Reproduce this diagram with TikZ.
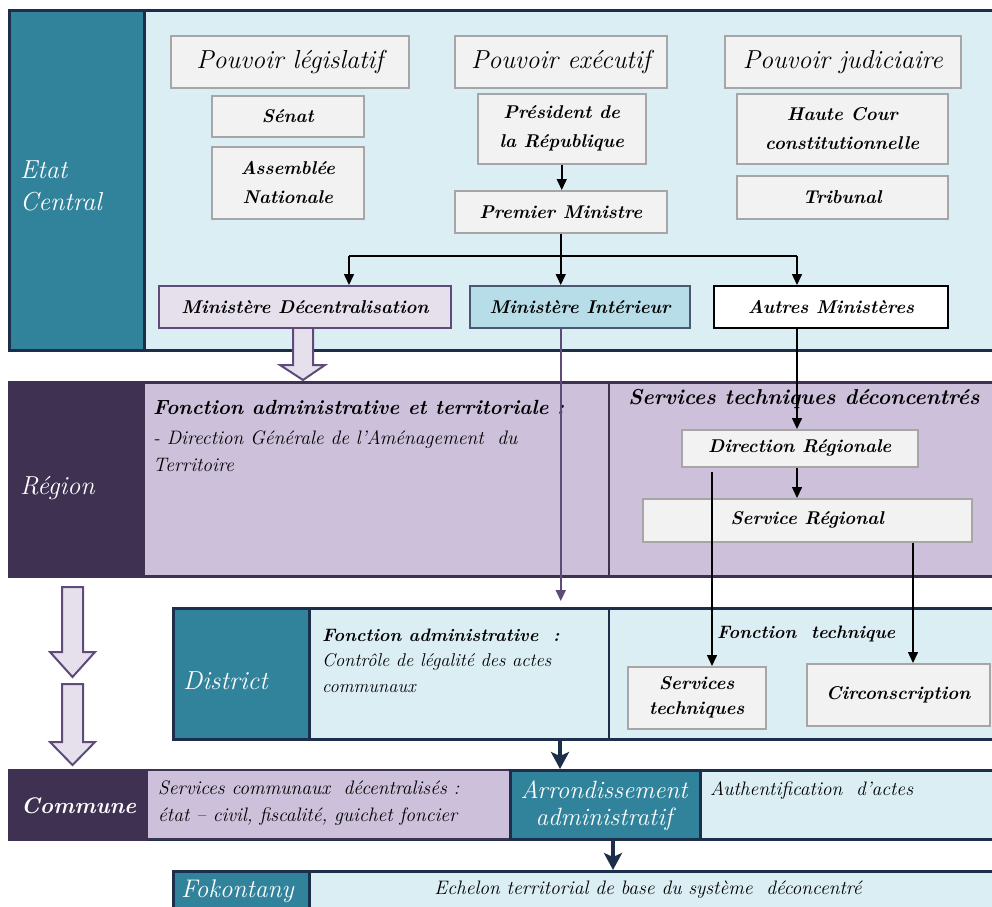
\documentclass[tikz,border=0pt]{standalone}
\usepackage{fontspec}
\usetikzlibrary{arrows.meta}
\definecolor{teal1}{HTML}{31829B}
\definecolor{lblue}{HTML}{DBEEF4}
\definecolor{dpurp}{HTML}{3F3151}
\definecolor{lav}{HTML}{CCC0DA}
\definecolor{lav2}{HTML}{E5E0EC}
\definecolor{navy}{HTML}{1C2E4A}
\definecolor{gfill}{HTML}{F2F2F2}
\definecolor{gline}{HTML}{A6A6A6}
\definecolor{mblue}{HTML}{B7DEE8}
\definecolor{arrpurp}{HTML}{5F4B7A}
\newcommand\myfs[2]{\fontsize{#1}{#2}\selectfont}
\tikzset{
  band/.style={draw=navy, line width=3pt, inner sep=0pt, anchor=north west},
  gbox/.style={draw=gline, fill=gfill, line width=1.5pt, inner sep=0pt, anchor=north west, align=center, font=\myfs{18.5}{29}\bfseries\itshape},
  head/.style={draw=gline, fill=gfill, line width=1.5pt, inner sep=0pt, anchor=north west, align=center, font=\myfs{26}{29}\itshape},
  big/.style={text=white, inner sep=0pt, anchor=west, align=left, font=\myfs{26}{32}\itshape},
  txt/.style={inner sep=0pt, anchor=west, align=left, font=\myfs{19.5}{27}\itshape},
  htxt/.style={inner sep=0pt, anchor=west, align=left, font=\myfs{20.5}{27}\bfseries\itshape},
  arr/.style={line width=1.5pt, draw=black, -{Triangle[length=11pt,width=10pt]}},
  parr/.style={line width=2pt, draw=arrpurp, -{Triangle[length=11pt,width=10pt]}},
  tarr/.style={line width=4pt, draw=navy, -{Stealth[length=17pt,width=18pt,inset=4pt]}},
  barrow/.style={draw=arrpurp, fill=lav2, line width=2pt, line join=miter},
}
\begin{document}
\begin{tikzpicture}[x=1pt,y=-1pt]
\useasboundingbox (0,0) rectangle (992,906);
\clip (0,0) rectangle (992,906);
% ---------------- Etat Central
\node[band, fill=lblue, minimum width=984, minimum height=340] (etat) at (8,9) {};
\node[band, fill=teal1, minimum width=135, minimum height=340] (etatL) at (8,9) {};
\node[big] (etatT) at (20,186) {Etat\\Central};

\node[head, minimum width=238, minimum height=52] (pl) at (170,35) {Pouvoir législatif};
\node[gbox, minimum width=152, minimum height=41] (sen) at (211,95) {Sénat};
\node[gbox, minimum width=152, minimum height=72] (an) at (211,146) {Assemblée\\Nationale};

\node[head, minimum width=212, minimum height=52] (pe) at (454,35) {Pouvoir exécutif};
\node[gbox, minimum width=168, minimum height=70] (pr) at (477,93) {Président de\\la République};
\node[gbox, minimum width=212, minimum height=42] (pm) at (454,190) {Premier Ministre};

\node[head, minimum width=236, minimum height=52] (pj) at (724,35) {Pouvoir judiciaire};
\node[gbox, minimum width=211, minimum height=70] (hc) at (736,93) {Haute Cour\\constitutionnelle};
\node[gbox, minimum width=211, minimum height=43] (tri) at (736,175) {Tribunal};

% block arrow from Ministere Decentralisation
\draw[barrow] (293,320) -- (293,365) -- (280,365) -- (303,380) -- (325,365) -- (313,365) -- (313,320);

\node[gbox, draw=arrpurp, fill=lav2, line width=2pt, minimum width=292, minimum height=42] (md) at (158,285) {Ministère Décentralisation};
\node[gbox, draw=navy!80, fill=mblue, line width=2pt, minimum width=220, minimum height=42] (mi) at (469,285) {Ministère Intérieur};
\node[gbox, draw=black, fill=white, line width=2pt, minimum width=234, minimum height=42] (am) at (713,285) {Autres Ministères};

\coordinate (jl) at (349,256);
\coordinate (jr) at (797,256);
\draw[arr] (pr.south) -- (pr.south |- pm.north);
\draw[line width=1.5pt] (jl) -- (jr);
\draw[arr] (jl) -- (jl |- md.north);
\draw[arr] (jr) -- (jr |- am.north);

% ---------------- Region
\node[band, draw=dpurp, fill=lav, minimum width=984, minimum height=194] (reg) at (8,381) {};
\node[band, draw=dpurp, fill=dpurp, minimum width=134, minimum height=194] (regL) at (8,381) {};
\coordinate (rdiv) at (609,0);
\draw[line width=1.5pt, draw=dpurp] (reg.north -| rdiv) -- (reg.south -| rdiv);
\node[big] (regT) at (20,488) {Région};
\node[htxt] (fat) at (153,407) {Fonction administrative et territoriale :};
\node[txt] (dga) at (153,451) {- Direction Générale de l’Aménagement\ \ du\\Territoire};
\node[htxt, anchor=center, font=\myfs{21.5}{27}\itshape\bfseries] (stdc) at (804,399) {Services techniques déconcentrés};
\node[gbox, minimum width=236, minimum height=37] (dr) at (681,429) {Direction Régionale};
\node[gbox, minimum width=329, minimum height=43] (sr) at (642,498) {Service Régional};

% ---------------- District
\node[band, fill=lblue, minimum width=820, minimum height=131] (dist) at (172,607) {};
\node[band, fill=teal1, minimum width=136, minimum height=131] (distL) at (172,607) {};
\draw[line width=1.5pt, draw=navy] (dist.north -| rdiv) -- (dist.south -| rdiv);
\node[big] (distT) at (183,681) {District};
\node[htxt, font=\myfs{18}{27}\bfseries\itshape] (fa) at (322,635) {Fonction administrative\ \ :};
\node[txt, font=\myfs{18.5}{26}\itshape] (ctl) at (322,673) {Contrôle de légalité des actes\\communaux};
\node[htxt, font=\myfs{18}{27}\bfseries\itshape] (ft) at (717,634) {Fonction\ \ technique};
\node[gbox, minimum width=138, minimum height=62, font=\myfs{18.5}{25}\bfseries\itshape] (st) at (627,666) {Services\\techniques};
\node[gbox, minimum width=183, minimum height=62] (ci) at (806,663) {Circonscription};

% ---------------- Commune
\node[band, fill=lblue, minimum width=984, minimum height=69] (com) at (8,769) {};
\node[band, draw=dpurp, fill=lav, line width=2pt, minimum width=364, minimum height=69] (comS) at (145,769) {};
\node[band, fill=dpurp, draw=dpurp, minimum width=137, minimum height=69] (comL) at (8,769) {};
\node[band, fill=teal1, minimum width=190, minimum height=69] (arr) at (509,769) {};
\node[big, font=\myfs{22.5}{32}\bfseries\itshape] (comT) at (21,806) {Commune};
\node[txt] (scd) at (158,803) {Services communaux\ \ décentralisés :\\état – civil, fiscalité, guichet foncier};
\node[big, anchor=center, align=center, font=\myfs{25}{27}\itshape] (arrT) at (604,806) {Arrondissement\\administratif};
\node[txt] (auth) at (710,791) {Authentification\ \ d’actes};

% ---------------- Fokontany
\node[band, fill=lblue, minimum width=820, minimum height=50] (fok) at (172,870) {};
\node[band, fill=teal1, minimum width=136, minimum height=50] (fokL) at (172,870) {};
\node[big, font=\myfs{25.5}{30}\itshape] (fokT) at (181,891) {Fokontany};
\node[txt, anchor=center] (ech) at (648,890) {Echelon territorial de base du système\ \ déconcentré};

% ---------------- connectors
\draw[arr] (pm.south) -- (pm.south |- mi.north);
\draw[parr, shorten >=6pt] (mi.south -| pm.south) -- (pm.south |- dist.north);
\draw[arr] (jr |- am.south) -- (jr |- dr.north);
\draw[arr] (jr |- dr.south) -- (jr |- sr.north);
\coordinate (s0) at (712,472);
\draw[arr] (s0) -- (s0 |- st.north);
\coordinate (c0) at (913,0);
\draw[arr] (sr.south -| c0) -- (c0 |- ci.north);
\coordinate (t1) at (560,0);
\draw[tarr] (dist.south -| t1) -- (t1 |- com.north);
\coordinate (t2) at (613,0);
\draw[tarr] (com.south -| t2) -- (t2 |- fok.north);

% left block arrows
\draw[barrow] (62,587) -- (62,652) -- (50,652) -- (72.5,677) -- (95,652) -- (83,652) -- (83,587) -- cycle;
\draw[barrow] (62,684) -- (62,742) -- (50,742) -- (72.5,765) -- (95,742) -- (83,742) -- (83,684) -- cycle;
\end{tikzpicture}
\end{document}
